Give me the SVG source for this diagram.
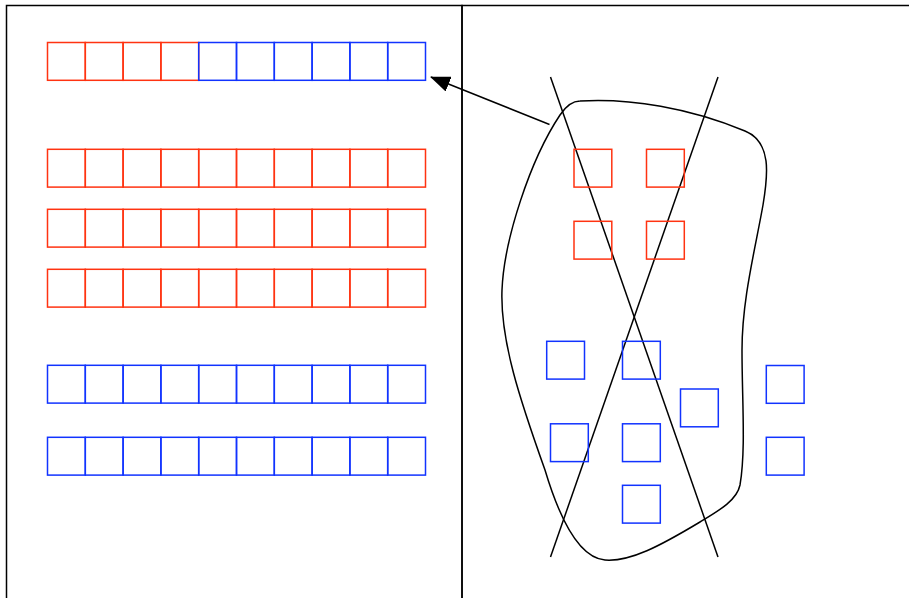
<svg xmlns="http://www.w3.org/2000/svg" width="909" height="598" viewBox="0 0 909 598">
<style>
.frame{fill:none;stroke:#000;stroke-width:1.5}
.r{fill:none;stroke:#ff3311;stroke-width:1.5}
.b{fill:none;stroke:#1133ff;stroke-width:1.5}
.ln{fill:none;stroke:#000;stroke-width:1.5}
</style>
<defs>
<marker id="ah" markerWidth="20" markerHeight="16" refX="19" refY="8" orient="auto" markerUnits="userSpaceOnUse" viewBox="0 0 20 16">
<path d="M0,0 L20,8 L0,16 Z" fill="#000"/>
</marker>
<rect id="sq" width="37.8" height="37.8"/>
</defs>
<rect width="909" height="598" fill="#fff"/>
<g id="frames">
<rect class="frame" x="6.5" y="5.5" width="455.5" height="610"/>
<rect class="frame" x="462" y="5.5" width="460" height="610"/>
</g>
<g id="row1">
<use href="#sq" class="r" x="47.5" y="42.5"/>
<use href="#sq" class="r" x="85.3" y="42.5"/>
<use href="#sq" class="r" x="123.1" y="42.5"/>
<use href="#sq" class="r" x="160.9" y="42.5"/>
<use href="#sq" class="b" x="198.7" y="42.5"/>
<use href="#sq" class="b" x="236.5" y="42.5"/>
<use href="#sq" class="b" x="274.3" y="42.5"/>
<use href="#sq" class="b" x="312.1" y="42.5"/>
<use href="#sq" class="b" x="349.9" y="42.5"/>
<use href="#sq" class="b" x="387.7" y="42.5"/>
</g>
<g id="row2" class="r">
<use href="#sq" x="47.5" y="149.3"/><use href="#sq" x="85.3" y="149.3"/><use href="#sq" x="123.1" y="149.3"/><use href="#sq" x="160.9" y="149.3"/><use href="#sq" x="198.7" y="149.3"/><use href="#sq" x="236.5" y="149.3"/><use href="#sq" x="274.3" y="149.3"/><use href="#sq" x="312.1" y="149.3"/><use href="#sq" x="349.9" y="149.3"/><use href="#sq" x="387.7" y="149.3"/>
</g>
<g id="row3" class="r">
<use href="#sq" x="47.5" y="209.3"/><use href="#sq" x="85.3" y="209.3"/><use href="#sq" x="123.1" y="209.3"/><use href="#sq" x="160.9" y="209.3"/><use href="#sq" x="198.7" y="209.3"/><use href="#sq" x="236.5" y="209.3"/><use href="#sq" x="274.3" y="209.3"/><use href="#sq" x="312.1" y="209.3"/><use href="#sq" x="349.9" y="209.3"/><use href="#sq" x="387.7" y="209.3"/>
</g>
<g id="row4" class="r">
<use href="#sq" x="47.5" y="269.3"/><use href="#sq" x="85.3" y="269.3"/><use href="#sq" x="123.1" y="269.3"/><use href="#sq" x="160.9" y="269.3"/><use href="#sq" x="198.7" y="269.3"/><use href="#sq" x="236.5" y="269.3"/><use href="#sq" x="274.3" y="269.3"/><use href="#sq" x="312.1" y="269.3"/><use href="#sq" x="349.9" y="269.3"/><use href="#sq" x="387.7" y="269.3"/>
</g>
<g id="row5" class="b">
<use href="#sq" x="47.5" y="365.3"/><use href="#sq" x="85.3" y="365.3"/><use href="#sq" x="123.1" y="365.3"/><use href="#sq" x="160.9" y="365.3"/><use href="#sq" x="198.7" y="365.3"/><use href="#sq" x="236.5" y="365.3"/><use href="#sq" x="274.3" y="365.3"/><use href="#sq" x="312.1" y="365.3"/><use href="#sq" x="349.9" y="365.3"/><use href="#sq" x="387.7" y="365.3"/>
</g>
<g id="row6" class="b">
<use href="#sq" x="47.5" y="437.3"/><use href="#sq" x="85.3" y="437.3"/><use href="#sq" x="123.1" y="437.3"/><use href="#sq" x="160.9" y="437.3"/><use href="#sq" x="198.7" y="437.3"/><use href="#sq" x="236.5" y="437.3"/><use href="#sq" x="274.3" y="437.3"/><use href="#sq" x="312.1" y="437.3"/><use href="#sq" x="349.9" y="437.3"/><use href="#sq" x="387.7" y="437.3"/>
</g>
<g id="blob">
<path class="ln" d="M580 101 C630 98 690 108 745 131 C772 142 768 175 763 205 C755 250 742 300 742 350 C742 400 746 450 740 485 C737 500 720 510 700 522 C660 546 630 562 605 560 C580 558 560 520 545 470 C520 400 500 340 502 290 C504 240 530 160 560 115 C566 106 572 101 580 101 Z"/>
</g>
<g id="cross">
<line class="ln" x1="550.5" y1="77" x2="718" y2="557"/>
<line class="ln" x1="718" y1="77" x2="550.5" y2="557"/>
</g>
<g id="r1"><use href="#sq" class="r" x="574" y="149.3"/></g>
<g id="r2"><use href="#sq" class="r" x="646.5" y="149.3"/></g>
<g id="r3"><use href="#sq" class="r" x="574" y="221.3"/></g>
<g id="r4"><use href="#sq" class="r" x="646.5" y="221.3"/></g>
<g id="b1"><use href="#sq" class="b" x="546.7" y="341.3"/></g>
<g id="b2"><use href="#sq" class="b" x="622.5" y="341.3"/></g>
<g id="b3"><use href="#sq" class="b" x="680.5" y="389"/></g>
<g id="b4"><use href="#sq" class="b" x="766.3" y="365.5"/></g>
<g id="b5"><use href="#sq" class="b" x="550.5" y="423.8"/></g>
<g id="b6"><use href="#sq" class="b" x="622.5" y="423.8"/></g>
<g id="b7"><use href="#sq" class="b" x="766.3" y="437.3"/></g>
<g id="b8"><use href="#sq" class="b" x="622.5" y="485.3"/></g>
<g id="connectors">
<line class="ln" x1="549.5" y1="124.5" x2="431" y2="77" marker-end="url(#ah)"/>
</g>
</svg>
